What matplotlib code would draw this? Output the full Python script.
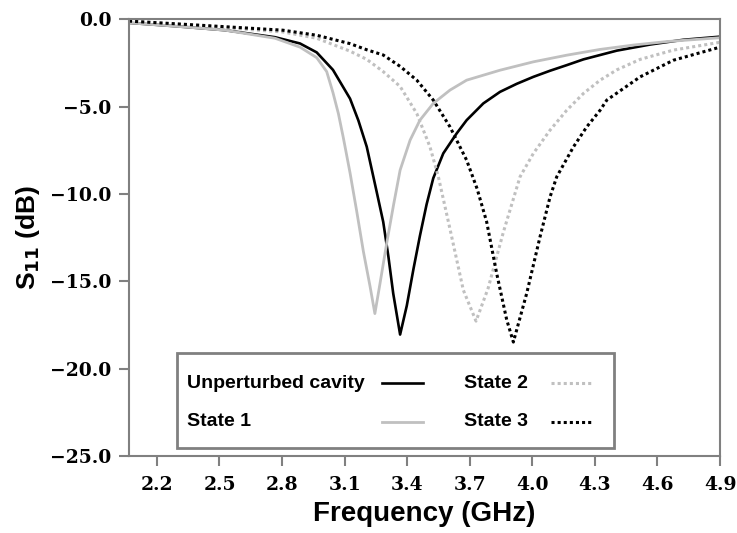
import matplotlib.pyplot as plt
from matplotlib.lines import Line2D
from matplotlib.patches import Rectangle
from matplotlib.ticker import FixedLocator, FuncFormatter

# frequency points (GHz) and S11 (dB) for each configuration
f_unpert = [2.066, 2.286, 2.526, 2.766, 2.886, 2.966, 3.044, 3.126, 3.166, 3.206,
            3.254, 3.285, 3.310, 3.333, 3.366, 3.398, 3.430, 3.461, 3.493, 3.525,
            3.573, 3.637, 3.685, 3.765, 3.845, 3.925, 4.005, 4.085, 4.165, 4.245,
            4.325, 4.405, 4.565, 4.723, 4.900]
s_unpert = [-0.21, -0.40, -0.63, -1.03, -1.39, -1.90, -2.90, -4.55, -5.80, -7.30,
            -9.90, -11.6, -13.6, -15.7, -18.05, -16.4, -14.3, -12.4, -10.6, -9.10,
            -7.68, -6.54, -5.78, -4.82, -4.16, -3.70, -3.30, -2.95, -2.63, -2.30,
            -2.05, -1.80, -1.45, -1.18, -1.00]

f_state1 = [2.066, 2.286, 2.526, 2.766, 2.886, 2.966, 3.014, 3.044, 3.070, 3.094,
            3.126, 3.158, 3.190, 3.222, 3.245, 3.270, 3.302, 3.335, 3.366, 3.414,
            3.461, 3.525, 3.605, 3.685, 3.845, 4.005, 4.165, 4.325, 4.485, 4.645,
            4.900]
s_state1 = [-0.21, -0.40, -0.63, -1.09, -1.60, -2.20, -3.00, -4.20, -5.40, -6.80,
            -8.80, -11.0, -13.3, -15.3, -16.85, -15.1, -12.8, -10.6, -8.64, -6.92,
            -5.78, -4.82, -4.06, -3.49, -2.92, -2.44, -2.06, -1.73, -1.48, -1.28,
            -1.06]

f_state2 = [2.066, 2.286, 2.526, 2.804, 2.966, 3.126, 3.206, 3.285, 3.366, 3.446,
            3.509, 3.549, 3.605, 3.669, 3.730, 3.788, 3.861, 3.941, 4.005, 4.085,
            4.165, 4.245, 4.325, 4.405, 4.517, 4.676, 4.900]
s_state2 = [-0.11, -0.29, -0.49, -0.73, -1.09, -1.83, -2.30, -3.00, -3.85, -5.40,
            -7.30, -9.00, -12.0, -15.5, -17.28, -15.4, -12.19, -9.02, -7.68, -6.35,
            -5.21, -4.25, -3.49, -2.90, -2.30, -1.77, -1.32]

f_state3 = [2.066, 2.286, 2.526, 2.804, 2.966, 3.126, 3.206, 3.285, 3.366, 3.446,
            3.525, 3.605, 3.685, 3.735, 3.781, 3.829, 3.877, 3.909, 3.973, 4.037,
            4.085, 4.117, 4.197, 4.261, 4.325, 4.357, 4.517, 4.676, 4.900]
s_state3 = [-0.11, -0.26, -0.43, -0.63, -0.92, -1.40, -1.75, -2.05, -2.70, -3.49,
            -4.63, -6.16, -8.07, -9.70, -11.60, -14.55, -17.2, -18.48, -15.69, -12.45,
            -10.17, -9.02, -7.31, -6.16, -5.21, -4.63, -3.30, -2.35, -1.60]

xticks = [2.2, 2.5, 2.8, 3.1, 3.4, 3.7, 4.0, 4.3, 4.6, 4.9]
yticks = [0.0, -5.0, -10.0, -15.0, -20.0, -25.0]

gris = '#c0c0c0'
bord = '#808080'

fig = plt.figure(figsize=(7.37, 5.33), dpi=100)
ax = fig.add_axes([0.175, 0.1445, 0.802, 0.8195])

styles = [
    ('Unperturbed cavity', f_unpert, s_unpert, dict(color='black', lw=1.9)),
    ('State 1', f_state1, s_state1, dict(color=gris, lw=2.0)),
    ('State 2', f_state2, s_state2, dict(color=gris, lw=2.2, ls=(0, (1, 1)))),
    ('State 3', f_state3, s_state3, dict(color='black', lw=2.2, ls=(0, (1, 1)))),
]
for nom, f, s, kw in styles:
    ax.plot(f, s, label=nom, **kw)

ax.set_xlim(2.066, 4.9)
ax.set_ylim(-25, 0)

for sp in ax.spines.values():
    sp.set_color(bord)
    sp.set_linewidth(1.5)

ax.xaxis.set_major_locator(FixedLocator(xticks))
ax.yaxis.set_major_locator(FixedLocator(yticks))
ax.xaxis.set_major_formatter(FuncFormatter(lambda v, p: f'{v:.1f}'))
ax.yaxis.set_major_formatter(FuncFormatter(lambda v, p: f'{v:.1f}'.replace('-', '\u2212')))
ax.tick_params(axis='x', direction='out', length=7.5, width=1.5, color=bord, pad=7)
ax.tick_params(axis='y', direction='out', length=7.5, width=1.5, color=bord, pad=5)
for lab in ax.get_xticklabels() + ax.get_yticklabels():
    lab.set_fontfamily('DejaVu Serif')
    lab.set_fontweight('bold')
    lab.set_fontsize(13.5)

ax.set_xlabel('Frequency (GHz)', fontsize=20, fontweight='bold',
              family='Liberation Sans', labelpad=5)
ax.set_ylabel(r'S$_{\mathbf{11}}$ (dB)', fontsize=19, fontweight='bold',
              family='Liberation Sans', labelpad=6)

# legend box: labels left, line samples on the right, two columns
ax.add_patch(Rectangle((0.081, 0.018), 0.74, 0.218, transform=ax.transAxes,
                       facecolor='white', edgecolor=bord, lw=2, zorder=5))
col_txt = [0.098, 0.567]
col_lig = [(0.428, 0.497), (0.714, 0.785)]
rangs = [0.167, 0.078]
for i, (nom, f, s, kw) in enumerate(styles):
    c, r = i // 2, i % 2
    ax.text(col_txt[c], rangs[r], nom, transform=ax.transAxes, ha='left',
            va='center', fontsize=14, fontweight='bold', family='Liberation Sans',
            zorder=6)
    ax.add_line(Line2D(col_lig[c], [rangs[r], rangs[r]], transform=ax.transAxes,
                       zorder=6, **kw))

plt.savefig('out.png', dpi=100)
